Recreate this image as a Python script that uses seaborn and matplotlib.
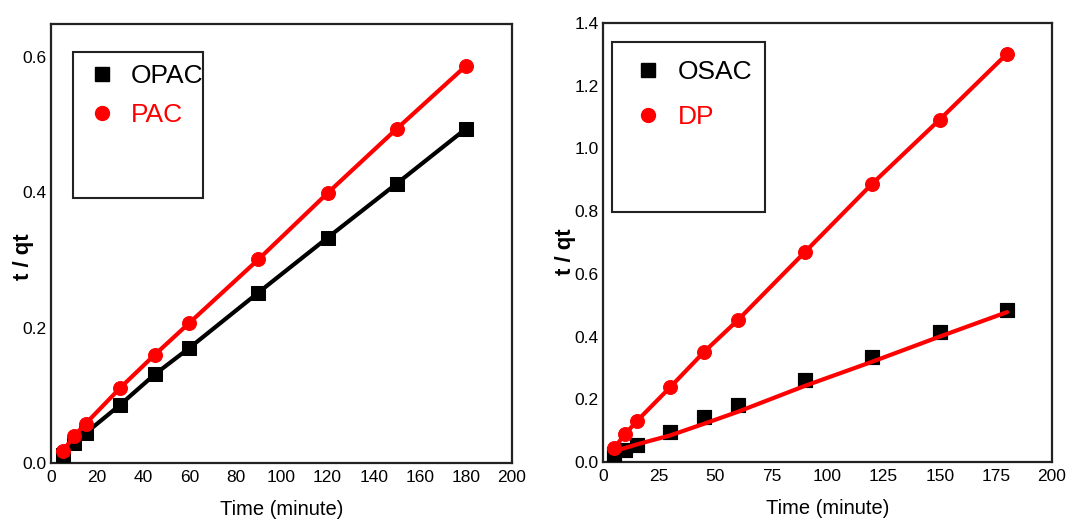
import matplotlib
matplotlib.use("Agg")
import matplotlib.pyplot as plt
import seaborn as sns
import pandas as pd
from matplotlib.patches import Rectangle
from matplotlib.lines import Line2D

# ---- data ----
time_left = [5, 10, 15, 30, 45, 60, 90, 120, 150, 180]
opac = [0.012, 0.030, 0.044, 0.086, 0.131, 0.170, 0.252, 0.333, 0.413, 0.494]
pac = [0.017, 0.040, 0.058, 0.111, 0.160, 0.207, 0.301, 0.399, 0.494, 0.587]

time_right = [5, 10, 15, 30, 45, 60, 90, 120, 150, 180]
osac = [0.025, 0.037, 0.053, 0.096, 0.143, 0.181, 0.260, 0.335, 0.415, 0.484]
osac_fit = [0.035, 0.045, 0.056, 0.085, 0.122, 0.160, 0.243, 0.320, 0.400, 0.478]
dp = [0.045, 0.090, 0.130, 0.239, 0.351, 0.452, 0.670, 0.888, 1.092, 1.302]

left_xticks = [0, 20, 40, 60, 80, 100, 120, 140, 160, 180, 200]
right_xticks = [0, 25, 50, 75, 100, 125, 150, 175, 200]
left_yticks = [0.0, 0.2, 0.4, 0.6]
right_yticks = [0.0, 0.2, 0.4, 0.6, 0.8, 1.0, 1.2, 1.4]

sns.set_theme(style="white")
plt.rcParams['font.family'] = ['Liberation Sans', 'DejaVu Sans']
plt.rcParams['text.color'] = 'black'
plt.rcParams['axes.labelcolor'] = 'black'
plt.rcParams['xtick.color'] = 'black'
plt.rcParams['ytick.color'] = 'black'

fig = plt.figure(figsize=(10.9, 5.19), dpi=100)
ax1 = fig.add_axes([0.0468, 0.1079, 0.4229, 0.846])
ax2 = fig.add_axes([0.5532, 0.1098, 0.4119, 0.8459])

dfl = pd.DataFrame({"t": time_left, "OPAC": opac, "PAC": pac})
dfr = pd.DataFrame({"t": time_right, "OSAC": osac, "fit": osac_fit, "DP": dp})

RED = "#ff0000"
# left panel
sns.lineplot(data=dfl, x="t", y="OPAC", ax=ax1, color="black", lw=3, marker="s",
             markersize=10, markeredgecolor="black", zorder=3)
sns.lineplot(data=dfl, x="t", y="PAC", ax=ax1, color=RED, lw=3, marker="o",
             markersize=10, markeredgecolor=RED, zorder=4)
# right panel
sns.scatterplot(data=dfr, x="t", y="OSAC", ax=ax2, color="black", marker="s", s=110,
                edgecolor="black", zorder=3)
sns.lineplot(data=dfr, x="t", y="fit", ax=ax2, color=RED, lw=3, zorder=4)
sns.lineplot(data=dfr, x="t", y="DP", ax=ax2, color=RED, lw=3, marker="o",
             markersize=10, markeredgecolor=RED, zorder=4)

for ax, xt, yt, ylim in [(ax1, left_xticks, left_yticks, 0.649),
                         (ax2, right_xticks, right_yticks, 1.4)]:
    ax.set_xlim(0, 200)
    ax.set_ylim(0, ylim)
    ax.set_xticks(xt)
    ax.set_yticks(yt)
    ax.set_xticklabels([str(v) for v in xt], fontsize=12.5)
    ax.set_yticklabels([f"{v:.1f}" for v in yt], fontsize=12.5)
    ax.tick_params(axis="x", length=0, pad=5)
    ax.tick_params(axis="y", length=0, pad=3)
    for s in ax.spines.values():
        s.set_color("#222222")
        s.set_linewidth(1.6)
    ax.set_xlabel("Time (minute)", fontsize=14.5, labelpad=11)
    ax.set_ylabel("t / qt", fontsize=16, fontweight="bold")

ax1.yaxis.set_label_coords(-0.037, 0.47)
ax2.yaxis.set_label_coords(-0.061, 0.48)

# legend boxes
ax1.add_patch(Rectangle((0.048, 0.604), 0.282, 0.332, transform=ax1.transAxes,
                        fill=False, ec="#222222", lw=1.5, zorder=5))
ax2.add_patch(Rectangle((0.02, 0.569), 0.341, 0.388, transform=ax2.transAxes,
                        fill=False, ec="#222222", lw=1.5, zorder=5))

h1 = [Line2D([], [], ls="none", marker="s", color="black", markersize=10),
      Line2D([], [], ls="none", marker="o", color=RED, markersize=10)]
leg1 = ax1.legend(h1, ["OPAC", "PAC"], loc="upper left", bbox_to_anchor=(0.03, 0.962),
                  frameon=False, fontsize=19, labelcolor=["black", RED],
                  handletextpad=0.6, labelspacing=0.55, handlelength=1.0)
h2 = [Line2D([], [], ls="none", marker="s", color="black", markersize=10),
      Line2D([], [], ls="none", marker="o", color=RED, markersize=10)]
leg2 = ax2.legend(h2, ["OSAC", "DP"], loc="upper left", bbox_to_anchor=(0.019, 0.97),
                  frameon=False, fontsize=19, labelcolor=["black", RED],
                  handletextpad=0.6, labelspacing=0.8, handlelength=1.0)

fig.savefig("out.png", dpi=100)
